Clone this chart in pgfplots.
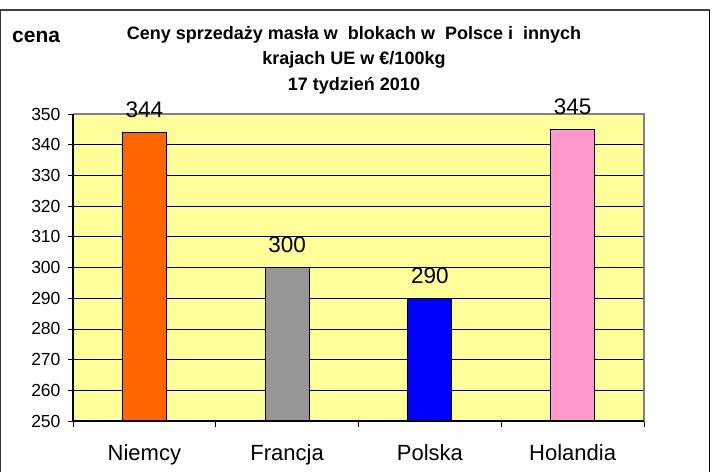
\documentclass[border=0pt]{standalone}
\usepackage{pgfplots}
\pgfplotsset{compat=1.18}
\usepackage{fontspec}
\setmainfont{Liberation Sans}
\definecolor{plotyellow}{HTML}{FFFF99}
\definecolor{barorange}{HTML}{FF6600}
\definecolor{bargray}{HTML}{969696}
\definecolor{barblue}{HTML}{0000FF}
\definecolor{barpink}{HTML}{FF99CC}
\begin{document}
\begin{tikzpicture}[x=1pt,y=1pt]
\begin{axis}[
  scale only axis,
  width=571pt, height=307pt,
  xmin=0.5, xmax=4.5, ymin=250, ymax=350,
  ytick={250,260,...,350},
  xtick={1,2,3,4},
  xticklabels={Niemcy,Francja,Polska,Holandia},
  minor xtick={0.5,1.5,2.5,3.5,4.5},
  tick pos=left, tick align=outside,
  major tick length=5pt, minor tick length=6pt,
  major x tick style={draw=none},
  every tick/.style={black, line width=0.8pt},
  ymajorgrids, grid style={black, line width=0.7pt},
  axis background/.style={fill=plotyellow},
  axis line style={draw=gray, line width=1pt},
  /pgf/number format/assume math mode=true,
  yticklabel style={font=\fontsize{17.5}{17.5}\selectfont, xshift=-4pt},
  xticklabel style={font=\fontsize{22}{22}\selectfont, yshift=-15pt},
  ybar, bar width=44pt, bar shift=0pt,
  nodes near coords,
  every node near coord/.append style={font=\fontsize{22.5}{22.5}\selectfont, black, yshift=11pt},
  clip=false,
]
\addplot[fill=barorange, draw=black, line width=0.8pt] coordinates {(1,344)};
\addplot[fill=bargray, draw=black, line width=0.8pt] coordinates {(2,300)};
\addplot[fill=barblue, draw=black, line width=0.8pt] coordinates {(3,290)};
\addplot[fill=barpink, draw=black, line width=0.8pt] coordinates {(4,345)};
\draw[gray, line width=1.2pt] (rel axis cs:0,1) -- (rel axis cs:1,1) -- (rel axis cs:1,0);
\draw[black, line width=1.2pt] (rel axis cs:0,1) -- (rel axis cs:0,0) -- (rel axis cs:1,0);
\coordinate (O) at (rel axis cs:0,0);
\end{axis}
\pgfresetboundingbox
\begin{scope}[shift={(O)}]
\begin{scope}[shift={(-73,-51)}]
\path[use as bounding box] (0,0) rectangle (715,472);
\draw[line width=1.2pt, black!80] (0.6,0) -- (0.6,462);
\draw[line width=2pt, black!75] (0,462) -- (709.5,462);
\draw[line width=1.2pt, black] (709.2,462) -- (709.2,0);
\node[anchor=base west, inner sep=0pt, font=\bfseries\fontsize{21}{21}\selectfont] at (12,429) {cena};
\node[anchor=base, inner sep=0pt, font=\bfseries\fontsize{18}{18}\selectfont] at (354,432) {Ceny sprzedaży masła w\ \ blokach w\ \ Polsce i\ \ innych};
\node[anchor=base, inner sep=0pt, font=\bfseries\fontsize{18}{18}\selectfont] at (354,407) {krajach UE w €/100kg};
\node[anchor=base, inner sep=0pt, font=\bfseries\fontsize{18}{18}\selectfont] at (354,381) {17 tydzień 2010};
\end{scope}
\end{scope}
\end{tikzpicture}
\end{document}
